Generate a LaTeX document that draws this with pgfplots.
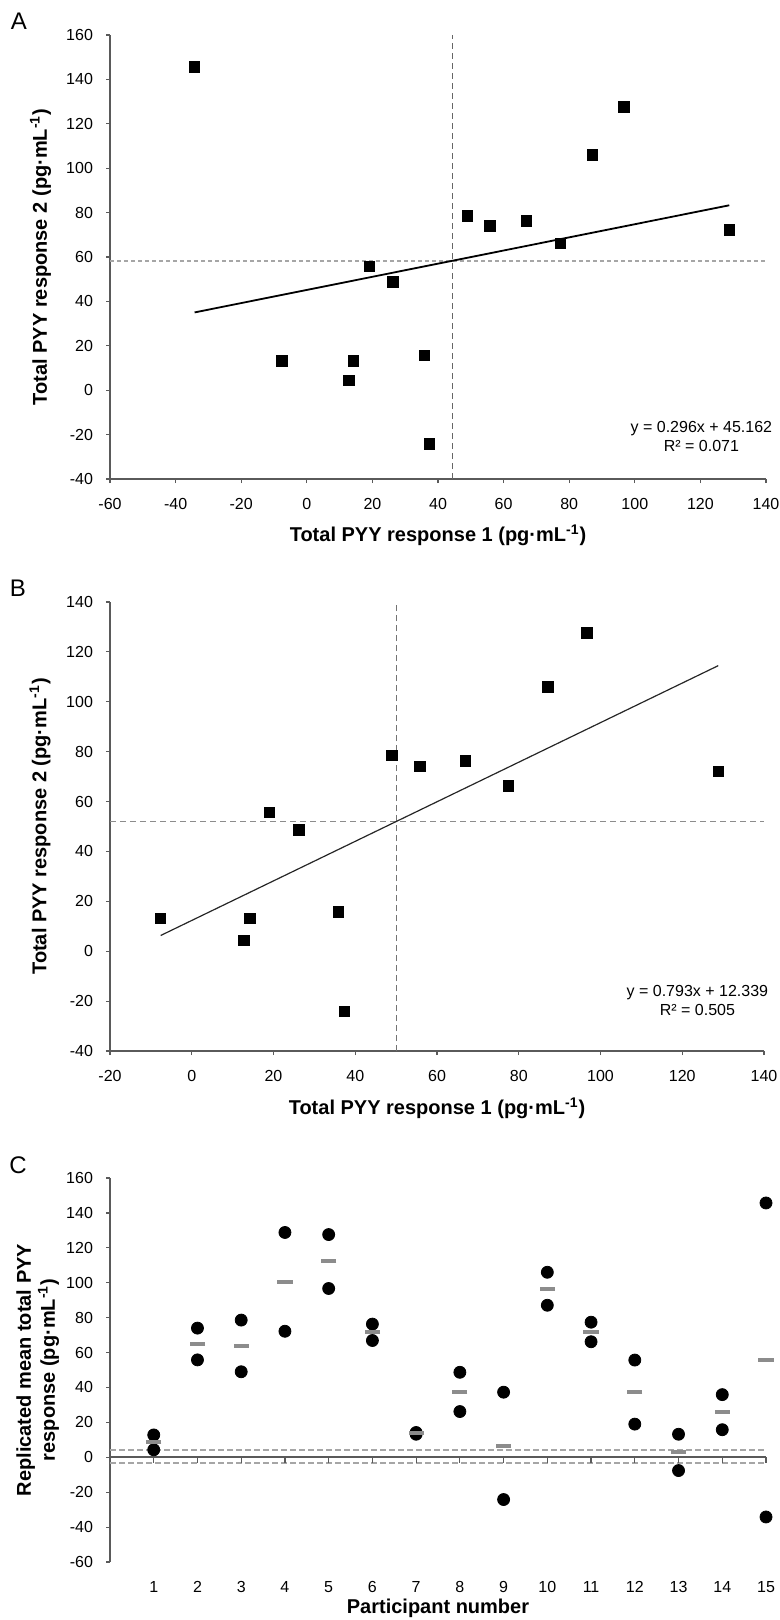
\documentclass[border=0pt]{standalone}
\usepackage{fontspec}
\setmainfont{Liberation Sans}
\usepackage{pgfplots}
\usepackage{pgfplotstable}
\pgfplotsset{compat=1.18}

% participant, response 1, response 2, mean of the two
\pgfplotstableread{
p   r1     r2     m
1   12.8   4.3    8.6
2   55.8   74.0   64.9
3   49.0   78.6   63.8
4   128.8  72.2   100.5
5   96.7   127.6  112.2
6   66.9   76.3   71.6
7   14.2   13.2   13.7
8   26.2   48.7   37.5
9   37.3   -24.2  6.6
10  87.1   106.0  96.6
11  77.4   66.2   71.8
12  19.0   55.7   37.4
13  -7.6   13.2   2.8
14  35.9   15.8   25.9
15  -34.2  145.7  55.8
}\pyy

\definecolor{axgray}{RGB}{90,90,90}
\definecolor{meangray}{RGB}{140,140,140}

\pgfplotsset{
  panel/.style={
    scale only axis,
    axis lines*=left,
    tick align=outside,
    major tick length=2pt,
    axis line style={axgray, line width=0.6pt},
    tick style={axgray, line width=0.6pt},
    tick label style={font=\fontsize{8}{9.6}\selectfont},
    label style={font=\bfseries\fontsize{10}{12}\selectfont},
    /pgf/number format/assume math mode=true,
    clip=false,
    xticklabel style={yshift=-4pt},
    yticklabel style={xshift=-3pt},
  },
}

\begin{document}
\begin{tikzpicture}
\useasboundingbox (0,0) rectangle (390pt,-810pt);

\node[font=\fontsize{12}{14}\selectfont] at (9.5pt,-10.5pt) {A};
\node[font=\fontsize{12}{14}\selectfont] at (9pt,-294pt) {B};
\node[font=\fontsize{12}{14}\selectfont] at (9pt,-582.5pt) {C};

% ---------- A ----------
\begin{axis}[panel,
  at={(55pt,-239.5pt)}, anchor=south west,
  width=328pt, height=222pt,
  xmin=-60, xmax=140, ymin=-40, ymax=160,
  xtick={-60,-40,...,140}, ytick={-40,-20,...,160},
  xlabel={Total PYY response 1 (pg·mL\textsuperscript{-1})},
  ylabel={Total PYY response 2 (pg·mL\textsuperscript{-1})},
  xlabel style={at={(axis description cs:0.5,-0.126)}, anchor=center},
  ylabel style={at={(axis description cs:-0.106,0.5)}, anchor=center},
]
\addplot[black!60, line width=0.5pt, dash pattern=on 3pt off 2pt] coordinates {(44.4,-40) (44.4,160)};
\addplot[black!35, line width=0.8pt, dash pattern=on 2pt off 1.5pt] coordinates {(-60,58.2) (140,58.2)};
\addplot[black, line width=0.9pt] coordinates {(-34.2,35.04) (128.8,83.29)};
\addplot[only marks, mark=square*, mark size=2.6pt, black] table[x=r1, y=r2] {\pyy};
\node[align=center, font=\fontsize{8}{9.6}\selectfont] at (axis cs:120.3,-20.7) {y = 0.296x + 45.162\\R² = 0.071};
\end{axis}

% ---------- B ----------
\begin{axis}[panel,
  at={(55pt,-525.5pt)}, anchor=south west,
  width=327pt, height=224.5pt,
  xmin=-20, xmax=140, ymin=-40, ymax=140,
  xtick={-20,0,...,140}, ytick={-40,-20,...,140},
  xlabel={Total PYY response 1 (pg·mL\textsuperscript{-1})},
  ylabel={Total PYY response 2 (pg·mL\textsuperscript{-1})},
  xlabel style={at={(axis description cs:0.5,-0.127)}, anchor=center},
  ylabel style={at={(axis description cs:-0.107,0.5)}, anchor=center},
]
\addplot[black!55, line width=0.5pt, dash pattern=on 3pt off 2pt] coordinates {(50.0,-40) (50.0,140)};
\addplot[black!45, line width=0.7pt, dash pattern=on 3pt off 2pt] coordinates {(-20,52.0) (140,52.0)};
\addplot[black!85, line width=0.6pt] coordinates {(-7.6,6.31) (128.8,114.48)};
\addplot[only marks, mark=square*, mark size=2.6pt, black,
  skip coords between index={14}{15}] table[x=r1, y=r2] {\pyy};
\node[align=center, font=\fontsize{8}{9.6}\selectfont] at (axis cs:123.7,-19.6) {y = 0.793x + 12.339\\R² = 0.505};
\end{axis}

% ---------- C ----------
\begin{axis}[panel,
  at={(55pt,-781pt)}, anchor=south west,
  width=328pt, height=192pt,
  xmin=0, xmax=15, ymin=-60, ymax=160,
  xtick={1,...,15}, ytick={-60,-40,...,160},
  axis x line*=bottom,
  x axis line style={draw=none},
  xtick style={draw=none},
  xticklabel style={yshift=0pt},
  xlabel={Participant number},
  ylabel={Replicated mean total PYY\\response (pg·mL\textsuperscript{-1})},
  xlabel style={at={(axis description cs:0.5,-0.12)}, anchor=center},
  ylabel style={at={(axis description cs:-0.11,0.5)}, anchor=center, align=center},
]
\addplot[black!35, line width=0.9pt, dash pattern=on 3pt off 1.5pt] coordinates {(0,4.0) (15,4.0)};
\addplot[black!35, line width=0.9pt, dash pattern=on 3pt off 1.5pt] coordinates {(0,-3.5) (15,-3.5)};
\addplot[axgray, line width=0.8pt] coordinates {(0,0) (15,0)};
\addplot[ycomb, axgray, line width=0.6pt, mark=none] coordinates {
  (1,-3) (2,-3) (3,-3) (4,-3) (5,-3) (6,-3) (7,-3) (8,-3)
  (9,-3) (10,-3) (11,-3) (12,-3) (13,-3) (14,-3) (15,-3)};
\addplot[only marks, mark=*, mark size=3pt, black] table[x=p, y=r1] {\pyy};
\addplot[only marks, mark=*, mark size=3pt, black] table[x=p, y=r2] {\pyy};
\addplot[only marks, mark=-, mark size=3.8pt, meangray, mark options={line width=2pt}] table[x=p, y=m] {\pyy};
\end{axis}
\end{tikzpicture}
\end{document}
